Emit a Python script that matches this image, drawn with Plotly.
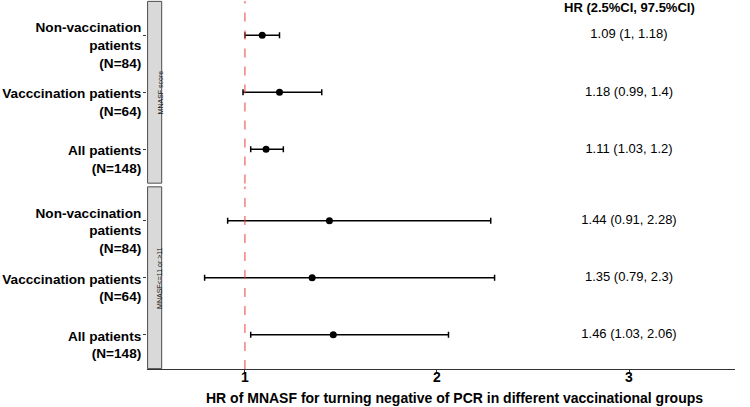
import plotly.graph_objects as go
from plotly.subplots import make_subplots

# rows of each panel, top to bottom
groups = ["Non-vaccination<br>patients<br>(N=84)",
          "Vacccination patients<br>(N=64)",
          "All patients<br>(N=148)"]
panels = ["MNASF score", "MNASF<=11 or >11"]

hr_score = [1.09, 1.18, 1.11]
lo_score = [1.00, 0.99, 1.03]
hi_score = [1.18, 1.40, 1.20]

hr_cut = [1.44, 1.35, 1.46]
lo_cut = [0.91, 0.79, 1.03]
hi_cut = [2.28, 2.30, 2.06]

x_ticks = [1, 2, 3]
text_x = 3  # column holding the HR text
header = "HR (2.5%CI, 97.5%CI)"
x_title = "HR of MNASF for turning negative of PCR in different vaccinational groups"

FONT = "Liberation Sans, Arial, sans-serif"


def hr_label(hr, lo, hi):
    return f"{hr:g} ({lo:g}, {hi:g})"


fig = make_subplots(rows=2, cols=1, shared_xaxes=True, vertical_spacing=0.008)

for row, (hr, lo, hi) in enumerate([(hr_score, lo_score, hi_score),
                                    (hr_cut, lo_cut, hi_cut)], start=1):
    fig.add_trace(go.Scatter(
        x=hr, y=groups,
        mode="markers",
        marker=dict(color="black", size=7),
        error_x=dict(type="data", symmetric=False,
                     array=[h - m for h, m in zip(hi, hr)],
                     arrayminus=[m - l for m, l in zip(hr, lo)],
                     color="black", thickness=1.5, width=3),
        showlegend=False,
    ), row=row, col=1)
    fig.add_trace(go.Scatter(
        x=[text_x] * len(groups), y=groups,
        mode="text",
        text=[hr_label(h, l, u) for h, l, u in zip(hr, lo, hi)],
        textfont=dict(family=FONT, size=13, color="black"),
        showlegend=False,
    ), row=row, col=1)

    yname = "y" if row == 1 else "y2"
    # reference line at HR = 1
    fig.add_shape(type="line", xref="x", yref=f"{yname} domain",
                  x0=1, x1=1, y0=0, y1=1,
                  line=dict(color="#e8413f", width=1, dash="dash"))
    # facet strip on the left
    fig.add_shape(type="rect", xref="x domain", yref=f"{yname} domain",
                  x0=0.001, x1=0.025, y0=0.002, y1=0.998,
                  fillcolor="#d9d9d9", line=dict(color="#4d4d4d", width=1),
                  layer="above")
    fig.add_annotation(xref="x domain", yref=f"{yname} domain",
                       x=0.013, y=0.5, text=panels[row - 1], textangle=-90,
                       showarrow=False,
                       font=dict(family=FONT, size=7, color="#1a1a1a"))

fig.add_annotation(xref="x", yref="y domain", x=text_x, y=0.962,
                   yanchor="middle",
                   text=f"<b>{header}</b>", showarrow=False,
                   font=dict(family=FONT, size=13, color="black"))

# x title, centred on the panel (right of the strip)
fig.add_annotation(xref="paper", yref="paper", x=0.523, y=0, yshift=-29,
                   yanchor="middle", text=f"<b>{x_title}</b>", showarrow=False,
                   font=dict(family=FONT, size=14, color="black"))

fig.update_yaxes(
    range=[2.6, -0.6], automargin=False,
    showline=False, showgrid=False, zeroline=False,
    ticks="outside", ticklen=3, tickcolor="#333333",
    ticklabelstandoff=-1, ticklabelshift=-10,
    tickfont=dict(family=FONT, size=13.6, color="black", weight="bold"),
)

fig.update_xaxes(range=[0.49, 3.552], showgrid=False, zeroline=False,
                 tickvals=x_ticks, automargin=False)
fig.update_xaxes(showline=False, ticks="", showticklabels=False, row=1, col=1)
fig.update_xaxes(showline=True, linecolor="#333333", linewidth=1,
                 ticks="outside", ticklen=3, tickcolor="#333333",
                 ticklabelstandoff=-8,
                 tickfont=dict(family=FONT, size=14, color="black", weight="bold"),
                 row=2, col=1)

fig.update_layout(
    width=750, height=407,
    margin=dict(l=147, r=15, t=1, b=38),
    plot_bgcolor="white", paper_bgcolor="white",
    font=dict(family=FONT),
)

fig.write_html("out.html", config={"displayModeBar": False},
               post_script="document.body.style.margin='0';")
